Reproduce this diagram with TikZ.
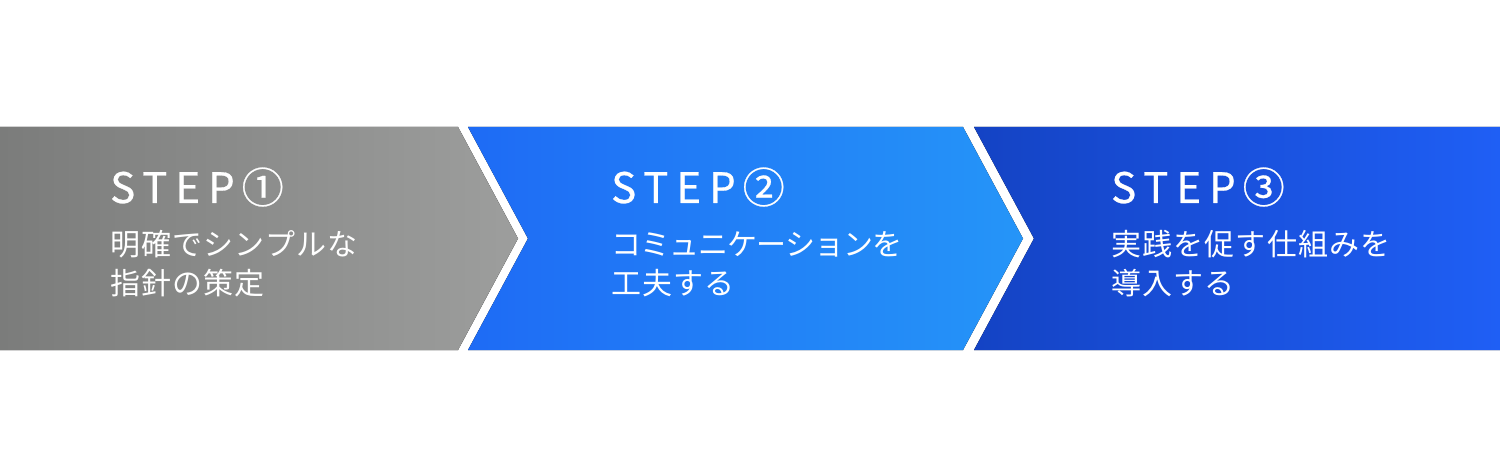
\documentclass[tikz,border=0pt]{standalone}
\usepackage{fontspec}
\setmainfont{Noto Sans CJK JP}
\newfontfamily\stepfont[LetterSpace=19,FakeBold=0.6]{Noto Sans CJK JP}
\newfontfamily\jpfont[LetterSpace=4]{Noto Sans CJK JP}
\newfontfamily\jpnarrow[LetterSpace=-3]{Noto Sans CJK JP}
\begin{document}
\begin{tikzpicture}[x=1pt,y=-1pt,
  steptitle/.style={anchor=base west,inner sep=0pt,text=white,font=\stepfont\fontsize{42}{42}\selectfont},
  stepbody/.style={anchor=base west,inner sep=0pt,text=white,font=\jpfont\fontsize{30}{39}\selectfont,align=left}]
\definecolor{grayL}{HTML}{7B7C7B}
\definecolor{grayR}{HTML}{9D9E9D}
\definecolor{blueAL}{HTML}{1E6BF5}
\definecolor{blueAR}{HTML}{2595F8}
\definecolor{blueBL}{HTML}{1443C4}
\definecolor{blueBR}{HTML}{1F5FF5}
\useasboundingbox (0,0) rectangle (1500,476);
\fill[white] (0,0) rectangle (1500,476);
\fill[left color=grayL,right color=grayR] (0,127) -- (458,127) -- (518,238.5) -- (458,350) -- (0,350) -- cycle;
\fill[left color=blueAL,right color=blueAR] (468,127) -- (963,127) -- (1023,238.5) -- (963,350) -- (468,350) -- (528,238.5) -- cycle;
\fill[left color=blueBL,right color=blueBR] (974,127) -- (1500,127) -- (1500,350) -- (974,350) -- (1034,238.5) -- cycle;
\node[steptitle] (t1) at (110,203) {STEP\,①};
\node[steptitle] (t2) at (611,203) {STEP\,②};
\node[steptitle] (t3) at (1111,203) {STEP\,③};
\node[stepbody] (b1a) at (110,255) {明確でシンプルな};
\node[stepbody] (b1b) at (110,294) {指針の策定};
\node[stepbody,font=\jpnarrow\fontsize{30}{39}\selectfont] (b2a) at (611,255) {コミュニケーションを};
\node[stepbody] (b2b) at (611,294) {工夫する};
\node[stepbody] (b3a) at (1111,255) {実践を促す仕組みを};
\node[stepbody] (b3b) at (1111,294) {導入する};
\end{tikzpicture}
\end{document}
